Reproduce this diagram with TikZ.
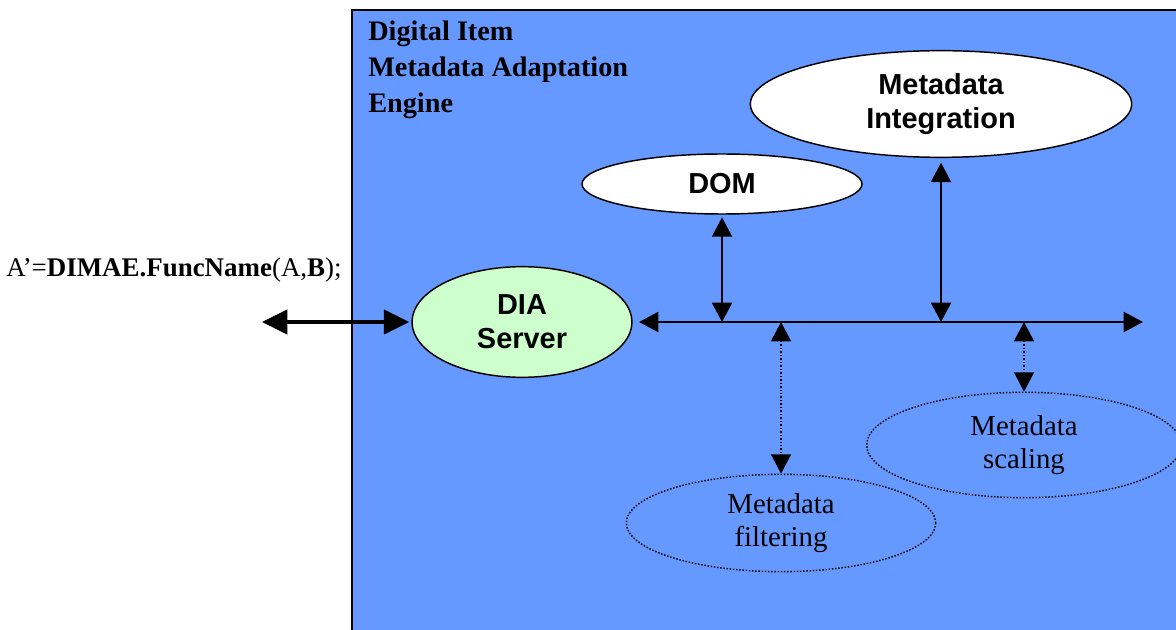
\documentclass[tikz,border=0pt]{standalone}
\usepackage{fontspec}
\setmainfont{Liberation Serif}
\newfontfamily\arialfont{Liberation Sans}
\usepackage{xcolor}
\usetikzlibrary{arrows.meta}
\usetikzlibrary{shapes.geometric}
\definecolor{engineblue}{HTML}{6699FF}
\definecolor{servergreen}{HTML}{CCFFCC}

\begin{document}
\begin{tikzpicture}[x=0.75pt, y=-0.75pt,
    module/.style={ellipse, draw, line width=1.1pt, fill=white, inner sep=0pt,
        align=center, font=\arialfont\bfseries\fontsize{21.7}{25.5}\selectfont},
    tool/.style={ellipse, draw, line width=1.1pt, dash pattern=on 1.1pt off 1.3pt,
        inner sep=0pt, align=center, font=\fontsize{21.6}{24.5}\selectfont},
    link/.style={{Triangle[length=14.5pt,width=15pt]}-{Triangle[length=14.5pt,width=15pt]},
        line width=1.5pt},
    toollink/.style={link, line width=1.1pt, dash pattern=on 1.1pt off 1.5pt},
    biglink/.style={{Triangle[length=19pt,width=18pt]}-{Triangle[length=19pt,width=18pt]},
        line width=3pt},
]
    \useasboundingbox (0,0) rectangle (1176,630);

    % engine box, open to the right and bottom
    \fill[engineblue] (352,10) rectangle (1176,630);
    \draw[line width=1.5pt] (352,630) -- (352,10) -- (1176,10);
    \node[anchor=north west, inner sep=0pt, align=left,
        font=\bfseries\fontsize{21.2}{27}\selectfont] (title) at (368,21)
        {Digital Item\\Metadata Adaptation\\Engine};

    \node[anchor=base west, inner sep=0pt, font=\fontsize{20.2}{22}\selectfont] (call) at (6,277)
        {A’=\textbf{DIMAE.FuncName}(A,\textbf{B});};

    \node[module, fill=servergreen, minimum width=165pt, minimum height=83pt] (dia) at (522,322) {DIA\\Server};
    \node[module, minimum width=210pt, minimum height=45pt] (dom) at (722,184) {DOM};
    \node[module, minimum width=286pt, minimum height=80pt] (integ) at (941,104) {Metadata\\Integration};
    \node[tool, minimum width=232pt, minimum height=73pt] (filter) at (781,523) {Metadata\\filtering};
    \node[tool, minimum width=236pt, minimum height=79pt] (scaling) at (1024,445) {Metadata\\scaling};

    \coordinate (caller) at (262,322);
    \coordinate (busW) at (639,322);
    \coordinate (busE) at (1143,322);

    \draw[biglink, shorten >=1.5pt] (caller) -- (dia.west);
    \draw[link] (busW) -- (busE);
    \draw[link, shorten <=2pt] (dom.south) -- (dom.south |- busW);
    \draw[link, shorten <=3.5pt] (integ.south) -- (integ.south |- busW);
    \draw[toollink] (filter.north |- busW) -- (filter.north);
    \draw[toollink] (scaling.north |- busW) -- (scaling.north);
\end{tikzpicture}
\end{document}
